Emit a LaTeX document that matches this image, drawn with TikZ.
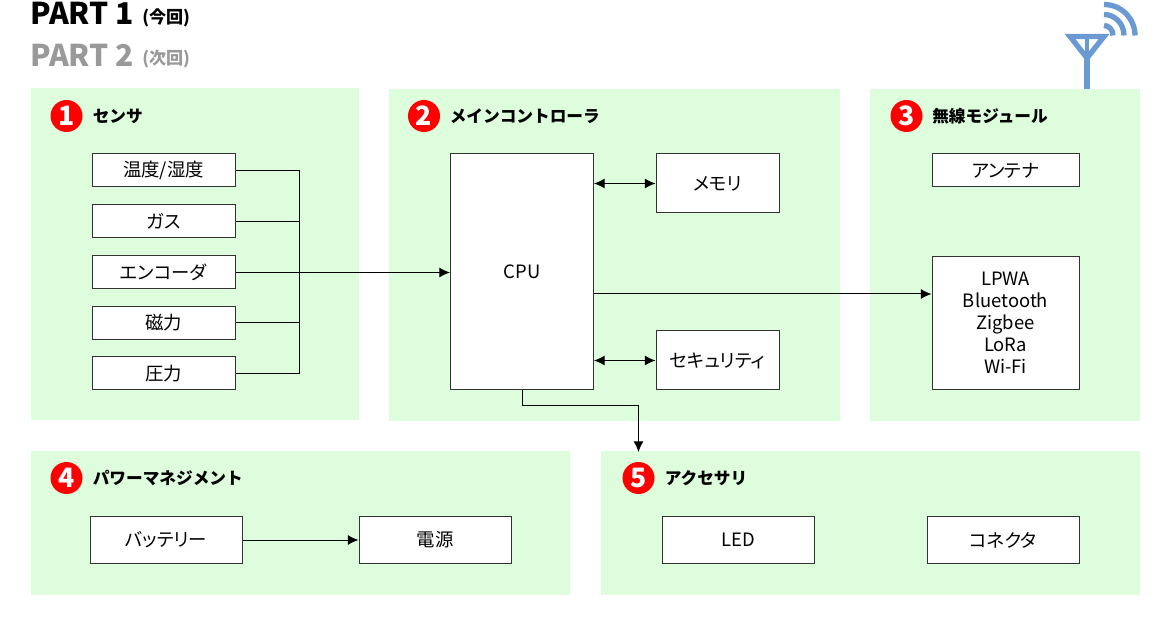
\documentclass[tikz,border=0pt]{standalone}
\usepackage{fontspec}
\setmainfont{Noto Sans CJK JP}[RawFeature=+palt]
\newfontfamily\titlef{Noto Sans CJK JP}
\usetikzlibrary{arrows.meta}
\definecolor{panelgreen}{HTML}{DDFDDD}
\definecolor{antblue}{HTML}{6A9AD4}
\definecolor{partgray}{HTML}{999999}
\definecolor{edgegray}{HTML}{333333}
\tikzset{
  pbox/.style={draw=edgegray,line width=0.75pt,fill=white,inner sep=0pt,align=center,font=\fontsize{13.8}{16.5}\selectfont},
  badge/.style={circle,fill=red,text=white,inner sep=0pt,minimum size=24pt,font=\titlef\fontsize{20}{20}\selectfont\bfseries},
  ptitle/.style={anchor=west,inner sep=0pt,font=\titlef\fontsize{12.5}{14}\selectfont\bfseries},
  conn/.style={line width=0.75pt,black},
  arr/.style={conn,-{Latex[length=8pt,width=7.5pt]}},
  darr/.style={conn,{Latex[length=8pt,width=7.5pt]}-{Latex[length=8pt,width=7.5pt]}},
  anten/.style={antblue,line width=4pt,line join=miter},
  wave/.style={antblue,line width=4pt},
  headtext/.style={anchor=west,inner sep=0pt,font=\fontsize{22.5}{24}\selectfont\bfseries},
  subtext/.style={anchor=west,inner sep=0pt,font=\titlef\fontsize{12.8}{14}\selectfont\bfseries}
}
\newcommand{\pbx}[6]{\node[pbox,minimum width=#4*0.75pt,minimum height=#5*0.75pt] (#1) at (#2,#3) {#6};}
\begin{document}
\begin{tikzpicture}[x=0.75pt,y=-0.75pt]
\useasboundingbox (0,0) rectangle (1170,630);
% panels
\fill[panelgreen] (31,88) rectangle (359,420);
\fill[panelgreen] (389,89) rectangle (840,421);
\fill[panelgreen] (870,89) rectangle (1140,421);
\fill[panelgreen] (31,451) rectangle (570,595);
\fill[panelgreen] (601,451) rectangle (1140,595);
% headers
\node[headtext] (p1) at (30,13) {PART 1};
\node[subtext] (p1b) at (142,17.5) {(今回)};
\node[headtext,text=partgray] (p2) at (30,55) {PART 2};
\node[subtext,text=partgray] (p2b) at (142,59.5) {(次回)};
% antenna
\draw[anten] (1087,89) -- (1087,58);
\draw[anten] (1070,36.5) -- (1104,36.5) -- (1087,58) -- cycle;
\draw[antblue,line width=2.6pt] (1087,36.5) -- (1087,58);
\draw[wave] (1104,25.5) arc[start angle=-90,end angle=0,x radius=9,y radius=10];
\draw[wave] (1104,14.5) arc[start angle=-90,end angle=0,x radius=20,y radius=21];
\draw[wave] (1104,4.5) arc[start angle=-90,end angle=0,x radius=31,y radius=31];
% badges and titles
\node[badge] (b1) at (66.5,116) {1};
\node[ptitle] (t1) at (92.5,116.5) {センサ};
\node[badge] (b2) at (424,116) {2};
\node[ptitle] (t2) at (449.5,116.5) {メインコントローラ};
\node[badge] (b3) at (906.5,116) {3};
\node[ptitle] (t3) at (932,116.5) {無線モジュール};
\node[badge] (b4) at (66.5,478) {4};
\node[ptitle] (t4) at (92.5,478.5) {パワーマネジメント};
\node[badge] (b5) at (638.5,478) {5};
\node[ptitle] (t5) at (664.5,478.5) {アクセサリ};
% sensors
\pbx{s1}{163.5}{170.5}{143}{33}{温度/湿度}
\pbx{s2}{163.5}{221.5}{143}{33}{ガス}
\pbx{s3}{163.5}{272.5}{143}{33}{エンコーダ}
\pbx{s4}{163.5}{323}{143}{33}{磁力}
\pbx{s5}{163.5}{373.5}{143}{33}{圧力}
% main controller
\pbx{cpu}{522}{272}{143}{236}{CPU}
\pbx{mem}{717.5}{183.5}{123}{59}{メモリ}
\pbx{sec}{717.5}{360.5}{123}{59}{セキュリティ}
% radio
\pbx{ant}{1005.5}{170.5}{147}{33}{アンテナ}
\pbx{lpwa}{1005.5}{323}{147}{133}{LPWA\\Bluetooth\\Zigbee\\LoRa\\Wi-Fi}
% power
\pbx{bat}{166}{540}{152}{47}{バッテリー}
\pbx{pow}{435}{540}{152}{47}{電源}
% accessory
\pbx{led}{738}{540}{152}{47}{LED}
\pbx{con}{1003}{540}{152}{47}{コネクタ}
% connectors
\coordinate (bustop) at (299,170.5);
\coordinate (busbot) at (299,373.5);
\coordinate (radioy) at (0,294);
\draw[conn] (s1.east) -- (bustop) -- (busbot) -- (s5.east);
\draw[conn] (s2.east) -- (s2.east -| bustop);
\draw[conn] (s4.east) -- (s4.east -| bustop);
\draw[arr] (s3.east) -- (s3.east -| cpu.west);
\draw[darr] (cpu.east |- mem.west) -- (mem.west);
\draw[darr] (cpu.east |- sec.west) -- (sec.west);
\draw[arr] (cpu.east |- radioy) -- (lpwa.west |- radioy);
\draw[arr] (bat.east) -- (pow.west);
\coordinate (elbow) at (638.5,405.5);
\coordinate (acc) at (638.5,452);
\draw[arr] (cpu.south) -- (cpu.south |- elbow) -- (elbow) -- (acc);
\end{tikzpicture}
\end{document}
